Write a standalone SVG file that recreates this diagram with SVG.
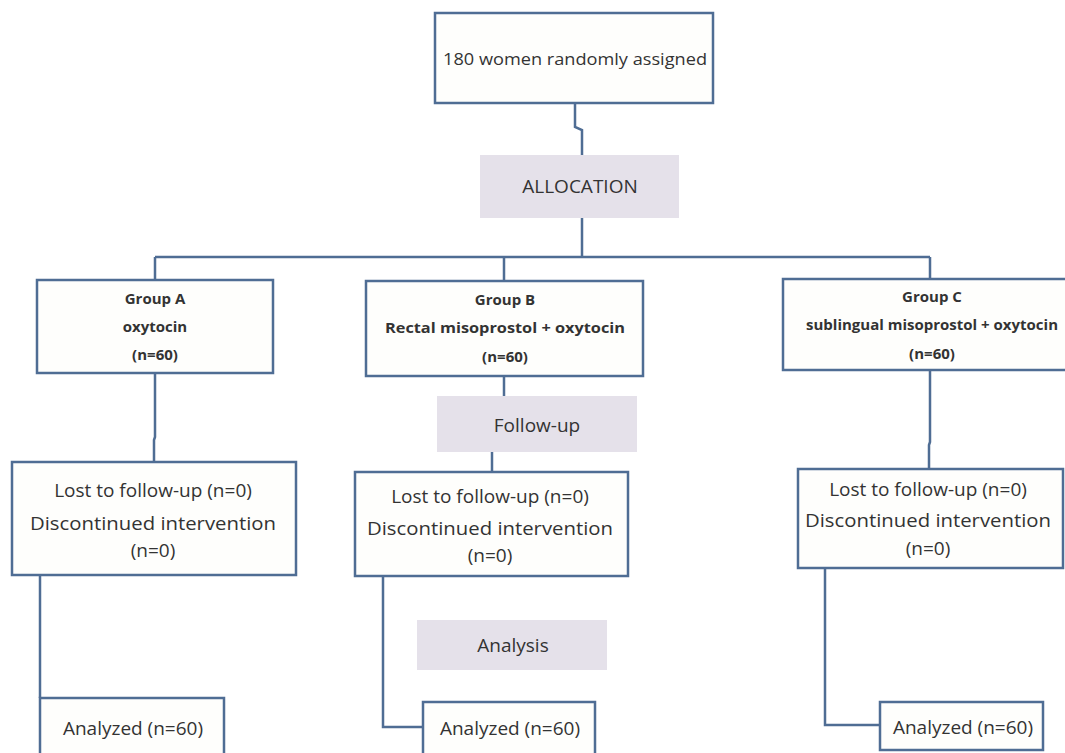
<svg xmlns="http://www.w3.org/2000/svg" width="1065" height="753" viewBox="0 0 1065 753">
<style>
.box{fill:#fefefc;stroke:#4f6d94;stroke-width:2.5}
.band{fill:#e5e1ea;stroke:none}
.ln{fill:none;stroke:#4f6d94;stroke-width:2.5}
text{font-family:"Open Sans","Liberation Sans",sans-serif;fill:#333;text-anchor:middle}
.b{font-weight:bold;font-size:15px}
.m{font-size:19px}
.s{font-size:15.5px}
</style>
<rect width="1065" height="753" fill="#ffffff"/>
<g id="connectors">
<path class="ln" d="M575 103 V127 L582 130 V155"/>
<path class="ln" d="M582 218 V257 M155 257 H930"/>
<path class="ln" d="M155 257 V280 M504 257 V281 M930 257 V279"/>
<path class="ln" d="M155 373 V437 L154 440 V462"/>
<path class="ln" d="M504 376 V396"/>
<path class="ln" d="M492 452 V472"/>
<path class="ln" d="M930 370 V442 L929 445 V469"/>
<path class="ln" d="M40 575 V698"/>
<path class="ln" d="M383 576 V727 H423"/>
<path class="ln" d="M825 568 V725 H880"/>
</g>
<g id="n-top"><rect class="box" x="435" y="13" width="278" height="90"/><text class="s" x="575" y="65" textLength="264" lengthAdjust="spacingAndGlyphs">180 women randomly assigned</text></g>
<g id="n-alloc"><rect class="band" x="480" y="155" width="199" height="63"/><text class="m" x="580" y="193" font-size="18.5">ALLOCATION</text></g>
<g id="n-ga"><rect class="box" x="37" y="280" width="236" height="93"/>
<text class="b" x="155" y="304">Group A</text><text class="b" x="155" y="332">oxytocin</text><text class="b" x="155" y="360">(n=60)</text></g>
<g id="n-gb"><rect class="box" x="366" y="281" width="277" height="95"/>
<text class="b" x="505" y="305">Group B</text><text class="b" x="505" y="333" textLength="240" lengthAdjust="spacingAndGlyphs">Rectal misoprostol + oxytocin</text><text class="b" x="505" y="362">(n=60)</text></g>
<g id="n-gc"><rect class="box" x="783" y="279" width="290" height="91"/>
<text class="b" x="932" y="302">Group C</text><text class="b" x="932" y="330">sublingual misoprostol + oxytocin</text><text class="b" x="932" y="359">(n=60)</text></g>
<g id="n-follow"><rect class="band" x="437" y="396" width="200" height="56"/><text class="m" x="537" y="432">Follow-up</text></g>
<g id="n-la"><rect class="box" x="12" y="462" width="284" height="113"/>
<text class="m" x="153" y="497">Lost to follow-up (n=0)</text><text class="m" x="153" y="530" textLength="246" lengthAdjust="spacingAndGlyphs">Discontinued intervention</text><text class="m" x="153" y="557">(n=0)</text></g>
<g id="n-lb"><rect class="box" x="355" y="472" width="273" height="104"/>
<text class="m" x="490" y="503">Lost to follow-up (n=0)</text><text class="m" x="490" y="535" textLength="246" lengthAdjust="spacingAndGlyphs">Discontinued intervention</text><text class="m" x="490" y="562">(n=0)</text></g>
<g id="n-lc"><rect class="box" x="798" y="469" width="265" height="99"/>
<text class="m" x="928" y="496">Lost to follow-up (n=0)</text><text class="m" x="928" y="527" textLength="246" lengthAdjust="spacingAndGlyphs">Discontinued intervention</text><text class="m" x="928" y="555">(n=0)</text></g>
<g id="n-analysis"><rect class="band" x="417" y="620" width="190" height="50"/><text class="m" x="513" y="652">Analysis</text></g>
<g id="n-aa"><rect class="box" x="40" y="698" width="184" height="70"/><text class="m" x="133" y="735">Analyzed (n=60)</text></g>
<g id="n-ab"><rect class="box" x="423" y="702" width="172" height="66"/><text class="m" x="510" y="735">Analyzed (n=60)</text></g>
<g id="n-ac"><rect class="box" x="880" y="702" width="163" height="48"/><text class="m" x="963" y="734">Analyzed (n=60)</text></g>
</svg>
